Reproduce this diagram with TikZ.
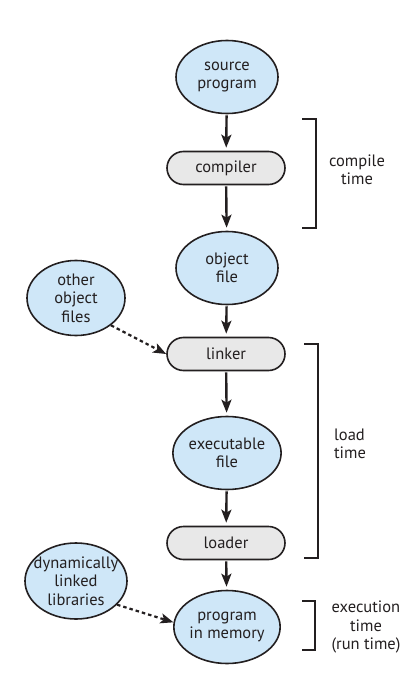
\documentclass[tikz,border=0pt]{standalone}
\usepackage{fontspec}
\setmainfont{PT Sans}
\usetikzlibrary{shapes.geometric,shapes.misc,arrows.meta}
\definecolor{ellfill}{HTML}{CFE7F8}
\definecolor{boxfill}{HTML}{E8E8E8}
\definecolor{ink}{HTML}{231F20}
\tikzset{
  txt/.style={font=\fontsize{16.5}{18.5}\selectfont, text=ink},
  ell/.style={ellipse, draw=ink, line width=1.6pt, fill=ellfill, minimum width=102pt, minimum height=73pt, inner sep=0pt, align=center, txt},
  proc/.style={rounded rectangle, draw=ink, line width=1.6pt, fill=boxfill, minimum width=118pt, minimum height=33pt, inner sep=0pt, txt},
  flow/.style={-{Stealth[length=13pt,width=10pt,inset=3pt]}, line width=2.4pt, draw=ink, shorten >=3pt, shorten <=1pt},
  dflow/.style={-{Stealth[length=13pt,width=10pt,inset=3pt]}, line width=2.2pt, draw=ink, dash pattern=on 3.5pt off 3pt},
  brk/.style={line width=2.2pt, draw=ink},
  lbl/.style={align=center, txt}
}
\begin{document}
\begin{tikzpicture}[x=1pt,y=-1pt]
\useasboundingbox (0,0) rectangle (418,676);
\node[ell] (src) at (227,77) {source\\program};
\node[proc] (comp) at (226,168) {compiler};
\node[ell] (obj) at (227,268) {object\\file};
\node[proc] (link) at (226,354) {linker};
\node[ell, minimum width=98pt, minimum height=75pt] (other) at (76,298) {other\\object\\files};
\node[ell, minimum width=104pt] (exe) at (227,453) {executable\\file};
\node[proc] (load) at (226,543) {loader};
\node[ell, minimum width=102pt, minimum height=76pt, inner xsep=-8pt] (dyn) at (76,581) {dynamically\\linked\\libraries};
\node[ell, minimum width=104pt] (mem) at (227,627) {program\\in memory};

\draw[flow] (src) -- (comp);
\draw[flow] (comp) -- (obj);
\draw[flow] (obj) -- (link);
\draw[flow] (link) -- (exe);
\draw[flow] (exe) -- (load);
\draw[flow] (load) -- (mem);
\draw[dflow] (other.-38) -- (link.west);
\draw[dflow] (dyn.-30) -- (mem.175);

\coordinate (c1) at (302,119);
\coordinate (c2) at (316,119);
\coordinate (c3) at (316,228);
\coordinate (c4) at (302,228);
\draw[brk] (c1) -- (c2) -- (c3) -- (c4);
\node[lbl] (ct) at (357,170) {compile\\time};

\coordinate (l1) at (304,344);
\coordinate (l2) at (318,344);
\coordinate (l3) at (318,558);
\coordinate (l4) at (304,558);
\draw[brk] (l1) -- (l2) -- (l3) -- (l4);
\node[lbl, align=left] (lt) at (350,444) {load\\time};

\coordinate (e1) at (302,601);
\coordinate (e2) at (315,601);
\coordinate (e3) at (315,650);
\coordinate (e4) at (302,650);
\draw[brk] (e1) -- (e2) -- (e3) -- (e4);
\node[lbl] (et) at (366,627) {execution\\time\\(run time)};
\end{tikzpicture}
\end{document}
